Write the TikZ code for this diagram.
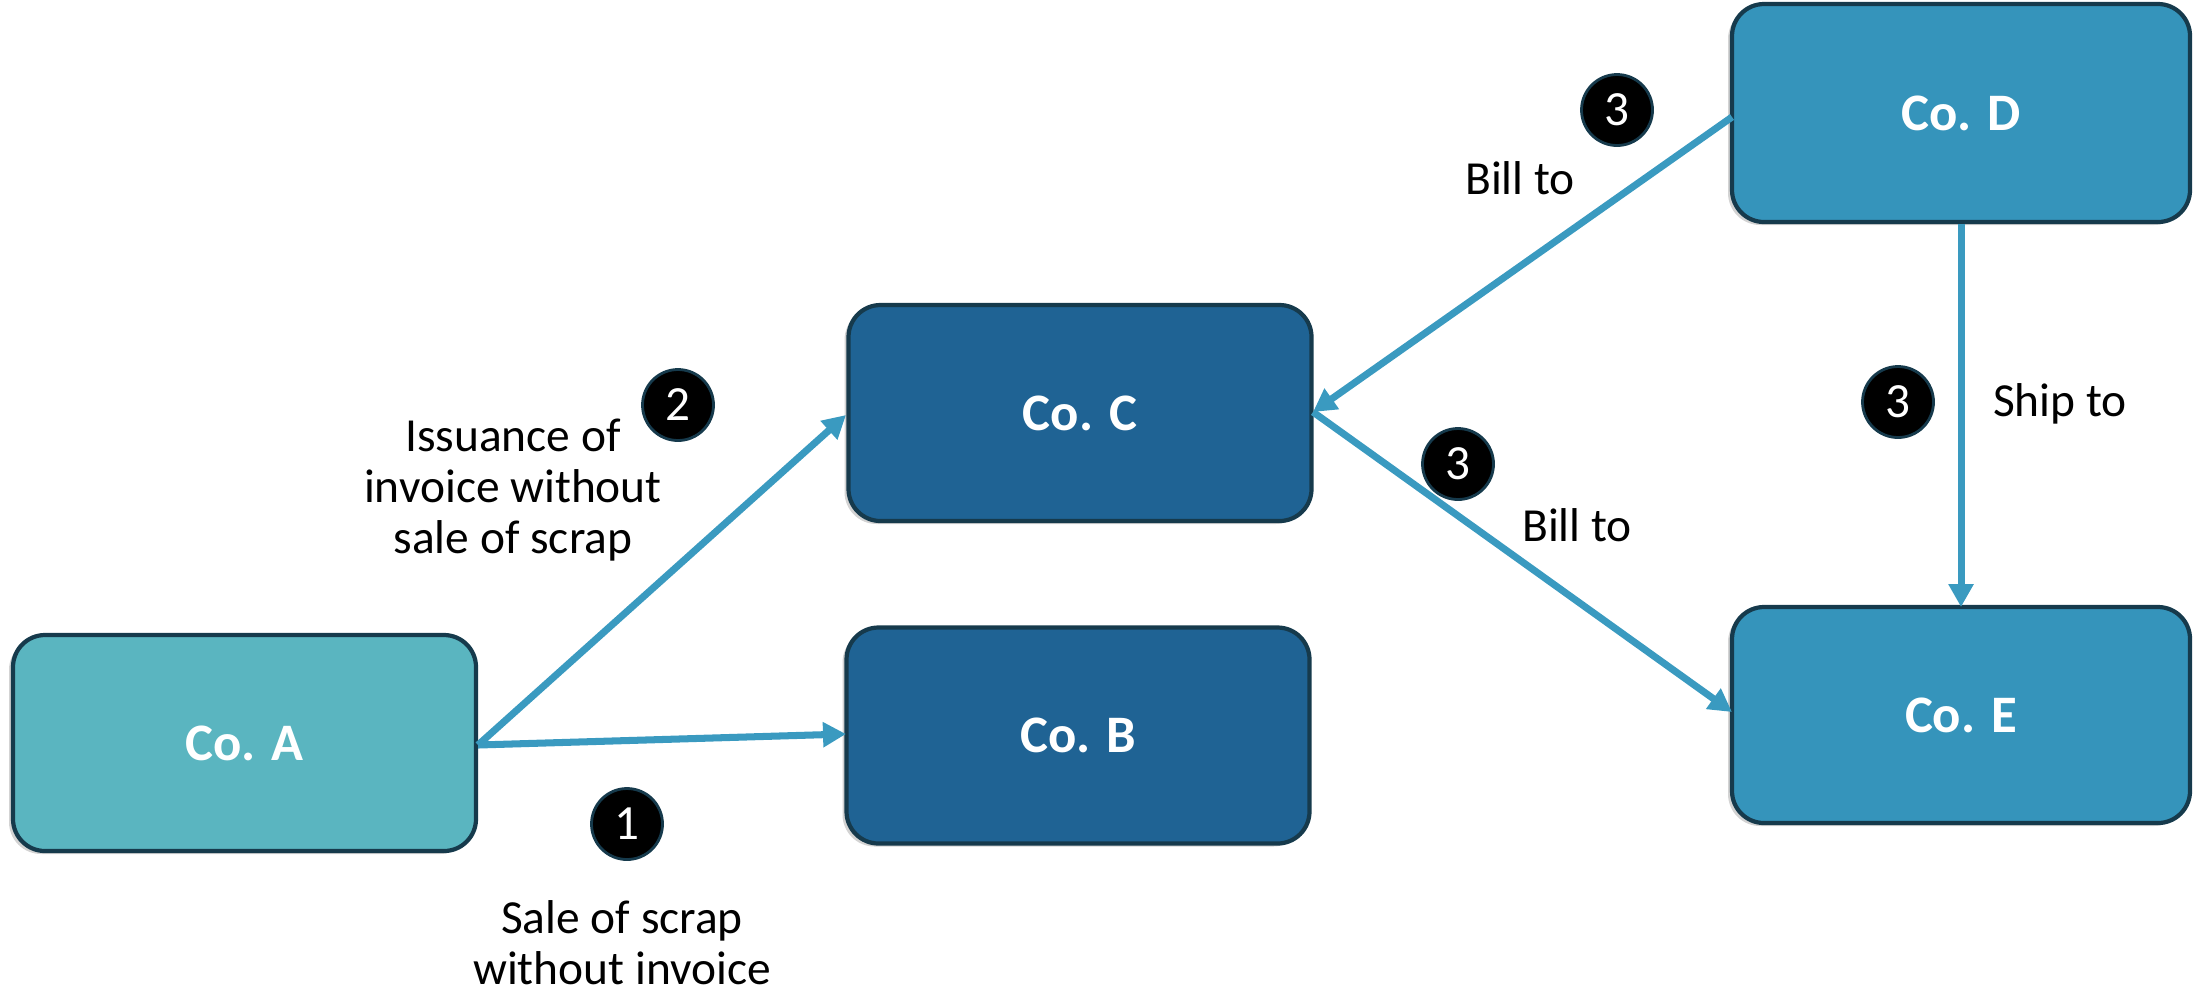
\documentclass[tikz,border=0pt]{standalone}
\usepackage{fontspec}
\setmainfont{Carlito}
\usetikzlibrary{arrows.meta,shadows}
\definecolor{colA}{HTML}{5AB5C0}
\definecolor{colBC}{HTML}{1F6394}
\definecolor{colDE}{HTML}{3594BB}
\definecolor{arr}{HTML}{3A9AC0}
\definecolor{bord}{HTML}{163A4C}
\tikzset{
  company/.style={draw=bord, line width=1.2pt, rounded corners=0.32cm, minimum width=#1, minimum height=2.16cm, text=white, font=\fontsize{15}{18}\selectfont\bfseries, drop shadow={shadow xshift=-0.04cm, shadow yshift=-0.03cm, opacity=0.35}},
  company/.default=4.63cm,
  flow/.style={draw=arr, line width=2pt, -{Triangle[length=0.23cm, width=0.24cm]}},
  badge/.style={circle, fill=black, draw=bord, line width=0.8pt, minimum size=0.71cm, inner sep=0pt, text=white, font=\fontsize{14}{16}\selectfont},
  lbl/.style={font=\fontsize{13.5}{17}\selectfont, align=center, text=black}
}
\begin{document}
\begin{tikzpicture}
\useasboundingbox (0,0) rectangle (21.94,-9.92);
\node[company, fill=colA] (A) at (2.445,-7.43) {Co. A};
\node[company, fill=colBC] (B) at (10.78,-7.355) {Co. B};
\node[company, fill=colBC] (C) at (10.80,-4.13) {Co. C};
\node[company=4.58cm, fill=colDE, minimum height=2.18cm] (D) at (19.61,-1.13) {Co. D};
\node[company=4.58cm, fill=colDE] (E) at (19.61,-7.15) {Co. E};

\coordinate (Aout) at (4.78,-7.45);
\coordinate (Bin) at (8.46,-7.34);
\coordinate (Cin) at (8.46,-4.15);
\coordinate (Dout) at (17.32,-1.17);
\coordinate (Cr) at (13.13,-4.12);
\coordinate (Ein) at (17.32,-7.12);
\coordinate (Dbot) at (19.61,-2.24);
\coordinate (Etop) at (19.61,-6.07);

\draw[flow] (Aout) -- (Bin);
\draw[flow] (Aout) -- (Cin);
\draw[flow] (Dout) -- (Cr);
\draw[flow] (Cr) -- (Ein);
\draw[flow] (Dbot) -- (Etop);

\node[badge] (n1) at (6.27,-8.24) {1};
\node[badge] (n2) at (6.78,-4.05) {2};
\node[badge] (n3a) at (16.17,-1.10) {3};
\node[badge] (n3b) at (14.58,-4.64) {3};
\node[badge] (n3c) at (18.98,-4.02) {3};

\node[lbl, font=\fontsize{13.5}{14.5}\selectfont] (t2) at (5.13,-4.90) {Issuance of\\invoice without\\sale of scrap};
\node[lbl, font=\fontsize{13.5}{14.5}\selectfont] (t1) at (6.22,-9.43) {Sale of scrap\\without invoice};
\node[lbl] (t3a) at (15.20,-1.78) {Bill to};
\node[lbl] (t3b) at (15.77,-5.25) {Bill to};
\node[lbl] (t3c) at (20.60,-4.04) {Ship to};
\end{tikzpicture}
\end{document}
